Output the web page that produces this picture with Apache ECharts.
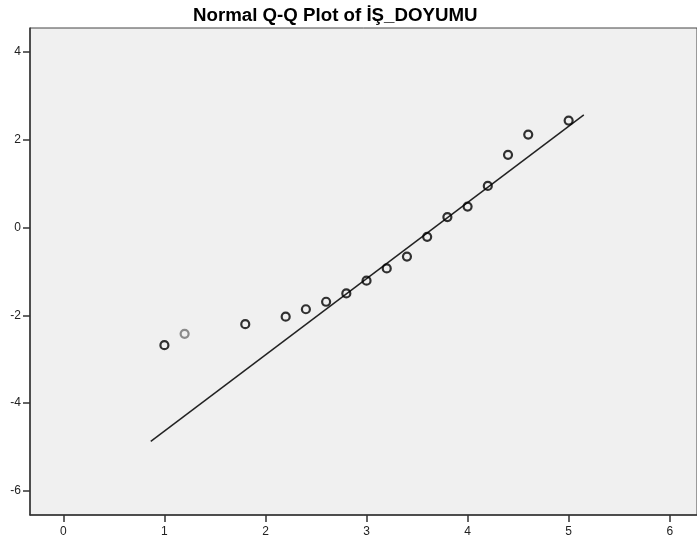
<!DOCTYPE html>
<html>
<head>
<meta charset="utf-8">
<script src="https://cdn.jsdelivr.net/npm/echarts@6/dist/echarts.min.js"></script>
<style>
html,body{margin:0;padding:0;background:#fff;}
#chart{width:697px;height:545px;}
</style>
</head>
<body>
<div id="chart"></div>
<script>
var titleText = 'Normal Q-Q Plot of İŞ_DOYUMU';
var observedValues = [1.0, 1.2, 1.8, 2.2, 2.4, 2.6, 2.8, 3.0, 3.2, 3.4, 3.6, 3.8, 4.0, 4.2, 4.4, 4.6, 5.0];
var expectedNormal = [-2.68, -2.42, -2.20, -2.03, -1.86, -1.69, -1.50, -1.21, -0.93, -0.66, -0.21, 0.24, 0.48, 0.95, 1.66, 2.12, 2.44];
var refLineX = [0.865, 5.15];
var refLineY = [-4.87, 2.57];
var xTicks = [0, 1, 2, 3, 4, 5, 6];
var yTicks = [-6, -4, -2, 0, 2, 4];

var pts = observedValues.map(function (v, i) {
  var p = {value: [v, expectedNormal[i]]};
  if (i === 1) p.itemStyle = {borderColor: '#707070'};
  return p;
});
var line = refLineX.map(function (v, i) { return [v, refLineY[i]]; });

var chart = echarts.init(document.getElementById('chart'), null, {renderer: 'canvas'});
chart.setOption({
  animation: false,
  backgroundColor: '#ffffff',
  title: {
    text: titleText,
    left: 188,
    top: 1,
    textStyle: {fontFamily: 'Liberation Sans, Arial, sans-serif', fontSize: 18.7, fontWeight: 'bold', color: '#000'}
  },
  grid: {
    left: 30, top: 28, right: -6, bottom: 30,
    show: true, backgroundColor: '#f0f0f0', borderColor: '#444', borderWidth: 1
  },
  xAxis: {
    type: 'value', min: -0.33, max: 6.27,
    axisLine: {show: true, onZero: false, lineStyle: {color: '#333', width: 1.5}},
    axisTick: {show: true, length: 7, customValues: xTicks, lineStyle: {color: '#333', width: 1.5}},
    axisLabel: {customValues: xTicks, margin: 11, color: '#222', fontSize: 12, fontFamily: 'Liberation Sans, Arial, sans-serif'},
    splitLine: {show: false}
  },
  yAxis: {
    type: 'value', min: -6.55, max: 4.55,
    axisLine: {show: true, onZero: false, lineStyle: {color: '#333', width: 1.5}},
    axisTick: {show: true, length: 7, customValues: yTicks, lineStyle: {color: '#333', width: 1.5}},
    axisLabel: {customValues: yTicks, margin: 9, color: '#222', fontSize: 12, fontFamily: 'Liberation Sans, Arial, sans-serif'},
    splitLine: {show: false}
  },
  series: [
    {
      type: 'line', data: line, symbol: 'none',
      lineStyle: {color: '#222', width: 1.5}, z: 2
    },
    {
      type: 'scatter', data: pts, symbol: 'circle', symbolSize: 8,
      itemStyle: {color: 'rgba(0,0,0,0)', borderColor: '#000', borderWidth: 2.2}, z: 3
    }
  ]
});
</script>
</body>
</html>
